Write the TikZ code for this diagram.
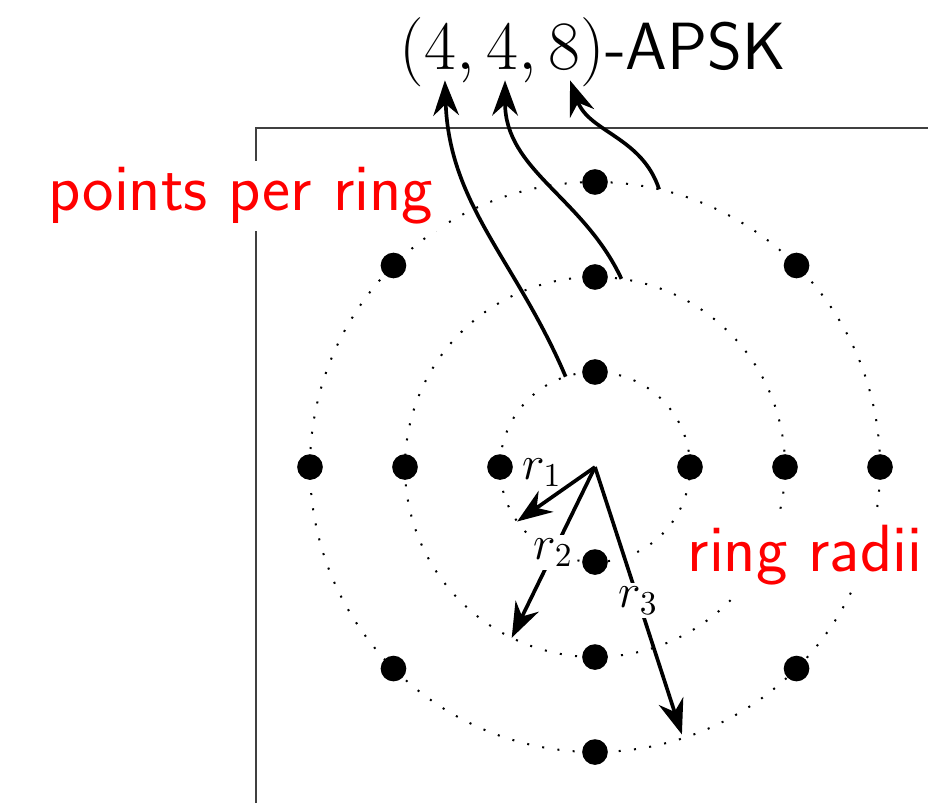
\documentclass[tikz,border=0pt]{standalone}
\usepackage{amsmath}
\usetikzlibrary{arrows.meta}

\tikzset{
  symbol/.style={circle, fill=black, inner sep=0pt, minimum size=0.27cm},
  ring/.style={loosely dotted, semithick},
  arrowhead/.style={-{Stealth[length=3.7mm, width=2.7mm, inset=1.2mm]}, line width=1.1pt},
  bigtext/.style={font=\fontsize{20}{24}\selectfont\sffamily},
  redlabel/.style={bigtext, red, fill=white, inner sep=2pt},
  rlabel/.style={font=\fontsize{14}{17}\selectfont, fill=white, inner sep=1pt},
}

\begin{document}
\begin{tikzpicture}
  \useasboundingbox (-6.263,-3.537) rectangle (3.505,4.916);

  % Draw the corner of the frame
  \draw[black!75, line width=0.6pt] (-3.568,-3.537) -- (-3.568,3.568) -- (3.505,3.568);

  % Draw the three rings
  \coordinate (O) at (0,0);
  \foreach \r in {1,2,3} {
    \draw[ring] (O) circle (\r);
  }

  % Constellation points: 4 + 4 + 8
  \foreach \a in {0,90,180,270} {
    \node[symbol] (a\a) at (\a:1) {};
    \node[symbol] (b\a) at (\a:2) {};
  }
  \foreach \a in {0,45,...,315} {
    \node[symbol] (c\a) at (\a:3) {};
  }

  % Ring radii
  \coordinate (e1) at (215:1);
  \coordinate (e2) at (244:2);
  \coordinate (e3) at (288:2.96);
  \draw[arrowhead] (O) -- (e1) node[rlabel, fill=none, pos=0.4, above left=-1pt] {$r_1$};
  \draw[arrowhead] (O) -- (e2) node[rlabel, midway] {$r_2$};
  \draw[arrowhead] (O) -- (e3) node[rlabel, midway] {$r_3$};

  % Title
  \node[bigtext, anchor=base] (title) at (-0.021,4.18) {$(4, 4, 8)$-APSK};

  % Arrows from each ring to its number of points
  \coordinate (s1) at (108:1);
  \coordinate (s2) at (82:2);
  \coordinate (s3) at (77:3);
  \coordinate (t1) at (-1.58,4.07);
  \coordinate (t2) at (-0.947,4.07);
  \coordinate (t3) at (-0.263,4.07);
  \draw[arrowhead] (s1) to[out=113, in=-88] (t1);
  \draw[arrowhead] (s2) to[out=115, in=-90] (t2);
  \draw[arrowhead] (s3) to[out=108, in=-70] (t3);

  % Labels
  \node[redlabel, anchor=base] (points) at (-3.727,2.695) {points per ring};
  \node[redlabel, anchor=base] (radii) at (2.21,-1.102) {ring radii};

\end{tikzpicture}
\end{document}
